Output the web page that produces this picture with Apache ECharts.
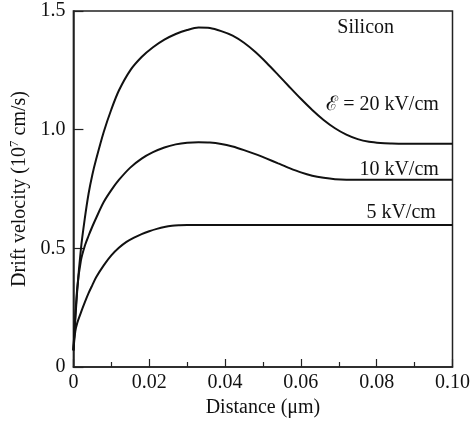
<!DOCTYPE html>
<html>
<head>
<meta charset="utf-8">
<script src="https://cdn.jsdelivr.net/npm/echarts@6/dist/echarts.min.js"></script>
<style>html,body{margin:0;padding:0;background:#fff}#c{width:473px;height:424px}</style>
</head>
<body>
<div id="c"></div>
<script>
// Distance (um) and drift velocity (1e7 cm/s)
const dist5  = [0, 0.0005, 0.001, 0.002, 0.003, 0.004, 0.005, 0.006, 0.008, 0.010, 0.012, 0.014, 0.016, 0.018, 0.020, 0.022, 0.024, 0.026, 0.028, 0.030, 0.100];
const vel5   = [0.07, 0.15, 0.185, 0.23, 0.272, 0.311, 0.345, 0.378, 0.428, 0.47, 0.502, 0.527, 0.545, 0.56, 0.572, 0.582, 0.59, 0.595, 0.597, 0.598, 0.598];
const dist10 = [0, 0.001, 0.002, 0.003, 0.004, 0.005, 0.006, 0.008, 0.010, 0.012, 0.015, 0.018, 0.021, 0.024, 0.027, 0.030, 0.033, 0.036, 0.039, 0.042, 0.045, 0.048, 0.051, 0.054, 0.057, 0.060, 0.063, 0.066, 0.069, 0.072, 0.100];
const vel10  = [0.07, 0.33, 0.45, 0.51, 0.553, 0.592, 0.628, 0.695, 0.745, 0.788, 0.84, 0.878, 0.905, 0.925, 0.938, 0.945, 0.947, 0.946, 0.94, 0.929, 0.914, 0.897, 0.878, 0.858, 0.838, 0.82, 0.806, 0.797, 0.791, 0.789, 0.789];
const dist20 = [0, 0.001, 0.002, 0.003, 0.004, 0.005, 0.006, 0.008, 0.010, 0.012, 0.015, 0.018, 0.021, 0.024, 0.027, 0.030, 0.033, 0.036, 0.039, 0.042, 0.045, 0.048, 0.051, 0.054, 0.057, 0.060, 0.063, 0.066, 0.069, 0.072, 0.075, 0.078, 0.081, 0.084, 0.087, 0.090, 0.100];
const vel20  = [0.07, 0.32, 0.50, 0.625, 0.73, 0.81, 0.875, 0.99, 1.085, 1.165, 1.25, 1.306, 1.347, 1.379, 1.403, 1.42, 1.43, 1.428, 1.415, 1.396, 1.366, 1.327, 1.281, 1.231, 1.18, 1.13, 1.083, 1.041, 1.006, 0.979, 0.96, 0.949, 0.944, 0.942, 0.941, 0.941, 0.941];
const seriesNames = ['\u2130 = 20 kV/cm', '10 kV/cm', '5 kV/cm'];
const xTicks = [0, 0.02, 0.04, 0.06, 0.08, 0.10];
const yTicks = [0, 0.5, 1.0, 1.5];
const title = 'Silicon';

const zip = (a, b) => a.map((x, i) => [x, b[i]]);
const FONT = '"Liberation Serif", "Times New Roman", serif';

const chart = echarts.init(document.getElementById('c'), null, {renderer: 'canvas'});
const lineSeries = (name, d) => ({
  name, type: 'line', data: d, smooth: 0.3, symbol: 'none',
  lineStyle: {color: '#111', width: 2}, silent: true, animation: false
});

chart.setOption({
  animation: false,
  backgroundColor: '#fff',
  grid: {left: 70, right: 18, top: 11, bottom: 57, show: true, borderColor: '#222', borderWidth: 1.5, backgroundColor: 'transparent'},
  xAxis: {
    type: 'value', min: xTicks[0], max: xTicks[xTicks.length - 1], interval: 0.02,
    name: 'Distance (\u03bcm)', nameLocation: 'middle', nameGap: 30,
    nameTextStyle: {fontFamily: FONT, fontSize: 20, color: '#111'},
    axisLine: {show: true, lineStyle: {color: '#222', width: 1.5}},
    axisTick: {show: true, inside: true, length: 8, lineStyle: {color: '#222', width: 1.2}},
    minorTick: {show: true, splitNumber: 2, length: 5, lineStyle: {color: '#222', width: 1.2}},
    splitLine: {show: false},
    axisLabel: {fontFamily: FONT, fontSize: 20, color: '#111', margin: 6,
      formatter: v => Math.abs(v) < 1e-9 ? '0' : v.toFixed(2)}
  },
  yAxis: {
    type: 'value', min: yTicks[0], max: yTicks[yTicks.length - 1], interval: 0.5,
    name: '{a|Drift velocity (10}{s|7}{a| cm/s)}', nameLocation: 'middle', nameGap: 37,
    nameRotate: 90,
    nameTextStyle: {fontFamily: FONT, fontSize: 20, color: '#111',
      rich: {a: {fontFamily: FONT, fontSize: 20, color: '#111'},
             s: {fontFamily: FONT, fontSize: 13, color: '#111', verticalAlign: 'top', padding: [0, 0, 10, 0]}}},
    axisLine: {show: true, lineStyle: {color: '#222', width: 1.5}},
    axisTick: {show: true, inside: true, length: 10, lineStyle: {color: '#222', width: 1.2}},
    splitLine: {show: false},
    axisLabel: {fontFamily: FONT, fontSize: 20, color: '#111', margin: 8,
      formatter: v => Math.abs(v) < 1e-9 ? '0' : v.toFixed(1)}
  },
  series: [
    lineSeries(seriesNames[0], zip(dist20, vel20)),
    lineSeries(seriesNames[1], zip(dist10, vel10)),
    lineSeries(seriesNames[2], zip(dist5, vel5))
  ]
});

// Annotation anchors (data coordinates)
const notes = [
  {text: title, at: [0.0771, 1.43], align: 'center'},
  {text: seriesNames[0], at: [0.0964, 1.105], align: 'right'},
  {text: seriesNames[1], at: [0.0964, 0.831], align: 'right'},
  {text: seriesNames[2], at: [0.0956, 0.65], align: 'right'}
];
chart.setOption({
  graphic: notes.map(n => {
    const p = chart.convertToPixel({gridIndex: 0}, n.at);
    return {type: 'text', x: p[0], y: p[1], silent: true,
      style: {text: n.text, fill: '#111', font: '20px ' + FONT, align: n.align, verticalAlign: 'middle'}};
  })
});
</script>
</body>
</html>
